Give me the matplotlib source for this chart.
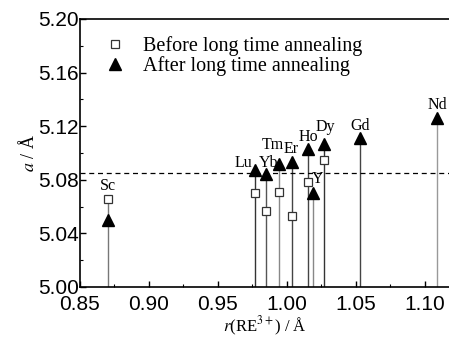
import matplotlib.pyplot as plt
import numpy as np

# ionic radii r(RE3+) / Å and lattice parameter a / Å
elements = ['Sc', 'Lu', 'Yb', 'Tm', 'Er', 'Ho', 'Y', 'Dy', 'Gd', 'Nd']
radius = [0.870, 0.977, 0.985, 0.994, 1.004, 1.015, 1.019, 1.027, 1.053, 1.109]
a_after = [5.050, 5.087, 5.084, 5.092, 5.093, 5.103, 5.070, 5.107, 5.111, 5.126]
# before annealing (None where not measured)
a_before = [5.066, 5.070, 5.057, 5.071, 5.053, 5.078, None, 5.095, None, None]
a_ref = 5.085

plt.rcParams['font.family'] = ['Liberation Serif']
plt.rcParams['mathtext.fontset'] = 'stix'

fig = plt.figure(figsize=(4.49, 3.38), dpi=100)
ax = fig.add_axes([0.178, 0.151, 0.822, 0.793])

stem_col = ['#777777', '#333333', '#555555', '#888888', '#444444',
            '#444444', '#888888', '#333333', '#444444', '#999999']
for i, r in enumerate(radius):
    top = max(v for v in (a_after[i], a_before[i]) if v is not None)
    ax.vlines(r, 5.0, top, color=stem_col[i], lw=1.0, zorder=1)

rb = [r for r, v in zip(radius, a_before) if v is not None]
vb = [v for v in a_before if v is not None]
ax.plot(rb, vb, 's', ms=6, mfc='white', mec='#333333', mew=0.9, ls='none',
        zorder=3, label='Before long time annealing')
ax.plot(radius, a_after, '^', ms=8, color='black', ls='none', zorder=3,
        label='After long time annealing')

ax.axhline(a_ref, color='black', ls=(0, (4, 3)), lw=0.9, zorder=2)

# element label offsets (pixels, from the marker centre)
offs = {'Sc': (0, 13), 'Lu': (-12, 7), 'Yb': (2, 11), 'Tm': (-6, 19),
        'Er': (-1, 13), 'Ho': (1, 12), 'Y': (5, 14), 'Dy': (1, 17),
        'Gd': (0, 12), 'Nd': (0, 13)}
for el, r, v, vb_ in zip(elements, radius, a_after, a_before):
    dx, dy = offs[el]
    y = vb_ if el == 'Sc' else v
    ax.annotate(el, (r, y), xytext=(dx * 0.72, dy * 0.72),
                textcoords='offset points', ha='center', va='center',
                fontsize=11.5, zorder=4)

ax.set_xlim(0.85, 1.1175)
ax.set_ylim(5.00, 5.20)
ax.set_xticks(np.arange(0.85, 1.101, 0.05))
ax.set_xticks(np.arange(0.875, 1.11, 0.05), minor=True)
ax.set_yticks(np.arange(5.00, 5.201, 0.04))
ax.set_yticks(np.arange(5.02, 5.20, 0.04), minor=True)
ax.xaxis.set_major_formatter(plt.FormatStrFormatter('%.2f'))
ax.yaxis.set_major_formatter(plt.FormatStrFormatter('%.2f'))
ax.tick_params(which='both', direction='in', top=False, right=False)
ax.tick_params(which='major', length=4, width=1, labelsize=15)
ax.tick_params(axis='y', which='major', pad=1)
ax.tick_params(axis='x', which='major', pad=6)
ax.tick_params(which='minor', length=2.5, width=0.8)
for lab in ax.get_xticklabels() + ax.get_yticklabels():
    lab.set_fontfamily('Liberation Sans')

ax.spines['right'].set_visible(False)
for s in ['left', 'bottom', 'top']:
    ax.spines[s].set_linewidth(1.2)

ax.set_xlabel(r'$r$(RE$^{3+}$) / Å', fontsize=12)
ax.xaxis.set_label_coords(0.5, -0.148)
ax.xaxis.label.set_va('center')
ax.set_ylabel(r'$a$ / Å', fontsize=13, labelpad=0)

ax.legend(loc='upper left', frameon=False, fontsize=14.5, handletextpad=0.8,
          borderaxespad=0.0, labelspacing=0.0, handlelength=1.2,
          bbox_to_anchor=(0.04, 0.965))

fig.savefig('out.png', dpi=100)
